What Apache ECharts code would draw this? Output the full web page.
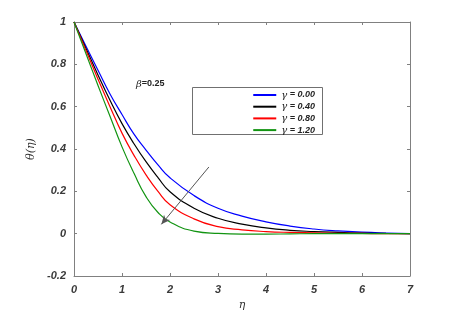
<!DOCTYPE html>
<html>
<head>
<meta charset="utf-8">
<script src="https://cdn.jsdelivr.net/npm/echarts@6/dist/echarts.min.js"></script>
<style>
  html, body { margin: 0; padding: 0; background: #fff; }
  #chartWrap { width: 471px; height: 320px; }
</style>
</head>
<body>
<div id="chartWrap"></div>
<script>
// eta values (x) and theta(eta)
var etaArr = [0, 0.25, 0.5, 0.75, 1, 1.25, 1.5, 1.75, 2, 2.5, 3, 3.5, 4, 4.5, 5, 5.5, 6, 6.5, 7];
var gamma000 = [1, 0.885, 0.772, 0.66, 0.563, 0.47, 0.395, 0.325, 0.264, 0.18, 0.12, 0.083, 0.056, 0.036, 0.022, 0.013, 0.007, 0.003, 0];
var gamma040 = [1, 0.875, 0.75, 0.63, 0.52, 0.425, 0.34, 0.265, 0.198, 0.12, 0.073, 0.045, 0.027, 0.016, 0.01, 0.006, 0.003, 0.001, 0];
var gamma080 = [1, 0.865, 0.73, 0.6, 0.475, 0.37, 0.278, 0.2, 0.137, 0.07, 0.033, 0.018, 0.01, 0.006, 0.004, 0.002, 0.001, 0, 0];
var gamma120 = [1, 0.85, 0.7, 0.555, 0.41, 0.285, 0.175, 0.1, 0.055, 0.012, 0.001, -0.002, -0.002, -0.001, 0, 0, 0, 0, 0];
var legendNames = ['0.00', '0.40', '0.80', '1.20'];
var lineColors = ['#0000ff', '#000000', '#ff0000', '#129412'];
// arrow showing increasing gamma, in data coords
var arrowFrom = [2.81, 0.315];
var arrowTo = [1.82, 0.044];

var dom = document.getElementById('chartWrap');
var myChart = echarts.init(dom);

function pairs(ys){
	var out = [];
	for(var i = 0; i < etaArr.length; i++){
		out.push([etaArr[i], ys[i]]);
	}
	return out;
}

var allSeries = [gamma000, gamma040, gamma080, gamma120];
var labelFont = { fontWeight: 'bold', fontStyle: 'italic', fontSize: 11, color: '#3a3a3a', fontFamily: 'Arial, Liberation Sans, sans-serif' };
var boxLine = { show: true, onZero: false, lineStyle: { color: '#808080' } };
var boxTick = { inside: true, length: 3, lineStyle: { color: '#808080' } };

var option = {
	animation: false,
	backgroundColor: '#fff',
	grid: { left: 74, right: 61, top: 22, bottom: 44 },
	legend: {
		orient: 'vertical',
		right: 151,
		top: 85,
		icon: 'rect',
		itemWidth: 23,
		itemHeight: 2,
		itemGap: 1.7,
		align: 'left',
		data: legendNames,
		formatter: function(n){ return '{g|\u03b3} = ' + n; },
		textStyle: {
			fontSize: 9, fontWeight: 'bold', fontStyle: 'italic', color: '#222', lineHeight: 10,
			fontFamily: 'Arial, Liberation Sans, sans-serif',
			rich: { g: { fontFamily: 'DejaVu Serif, serif', fontStyle: 'italic', fontWeight: 'normal', fontSize: 10, lineHeight: 10, color: '#222' } }
		}
	},
	graphic: [
		{ type: 'rect', left: 192, top: 87, shape: { width: 130, height: 47 }, style: { fill: '#fff', stroke: '#707070', lineWidth: 1 }, z: 0 },
		{ type: 'text', left: 136, top: 79, z: 5, style: {
			text: '{b|\u03b2}{n|=0.25}',
			rich: {
				b: { fontFamily: 'DejaVu Serif, serif', fontStyle: 'italic', fontSize: 10, fill: '#222' },
				n: { fontFamily: 'Arial, Liberation Sans, sans-serif', fontWeight: 'bold', fontSize: 9, fill: '#222' }
			}
		} }
	],
	xAxis: [{
		type: 'value', min: 0, max: 7, interval: 1,
		name: '\u03b7', nameLocation: 'middle', nameGap: 23,
		nameTextStyle: { fontFamily: 'DejaVu Serif, serif', fontStyle: 'italic', fontSize: 11, color: '#333' },
		axisLine: boxLine,
		axisTick: boxTick,
		axisLabel: Object.assign({ margin: 8 }, labelFont),
		splitLine: { show: false }
	}, {
		type: 'value', min: 0, max: 7, interval: 1, position: 'top',
		axisLine: boxLine,
		axisTick: boxTick,
		axisLabel: { show: false }, splitLine: { show: false }
	}],
	yAxis: [{
		type: 'value', min: -0.2, max: 1, interval: 0.2,
		name: '\u03b8(\u03b7)', nameLocation: 'middle', nameGap: 34,
		nameTextStyle: { fontFamily: 'DejaVu Serif, serif', fontStyle: 'italic', fontSize: 11, color: '#333' },
		axisLine: boxLine,
		axisTick: boxTick,
		axisLabel: Object.assign({ margin: 8, formatter: function(v){ return +v.toFixed(1) + ''; } }, labelFont),
		splitLine: { show: false }
	}, {
		type: 'value', min: -0.2, max: 1, interval: 0.2, position: 'right',
		axisLine: boxLine,
		axisTick: boxTick,
		axisLabel: { show: false }, splitLine: { show: false }
	}],
	series: []
};

for(var i = 0; i < allSeries.length; i++){
	option.series.push({
		name: legendNames[i],
		type: 'line',
		smooth: true,
		symbol: 'none',
		data: pairs(allSeries[i]),
		itemStyle: { color: lineColors[i] },
		lineStyle: { color: lineColors[i], width: 1.2 },
		z: 3
	});
}

// arrow annotation
option.series.push({
	type: 'line',
	data: [],
	silent: true,
	markLine: {
		silent: true,
		symbol: ['none', 'arrow'],
		symbolSize: [6, 9],
		label: { show: false },
		lineStyle: { color: '#555', type: 'solid', width: 1 },
		data: [[{ coord: arrowFrom }, { coord: arrowTo }]]
	}
});

myChart.setOption(option, true);
</script>
</body>
</html>
